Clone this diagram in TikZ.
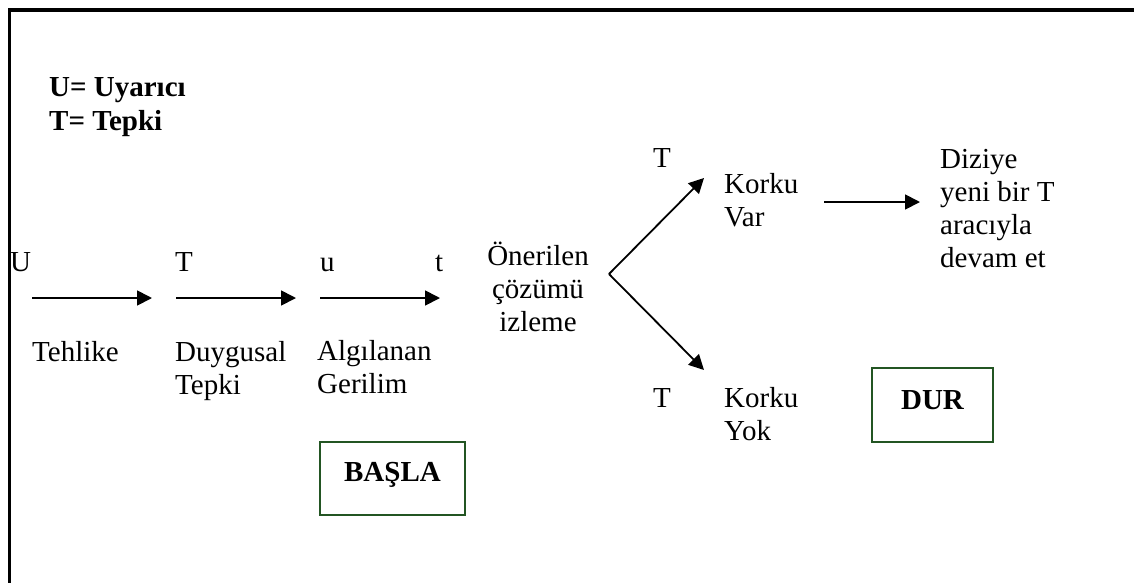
\documentclass[tikz,border=0pt]{standalone}
\usepackage{fontspec}
\setmainfont{Liberation Serif}
\usetikzlibrary{arrows.meta}
\definecolor{boxgreen}{RGB}{35,85,35}
\begin{document}
\begin{tikzpicture}[x=1pt,y=-1pt,
  % multi-line nodes are placed by the baseline of their last line
  txt/.style={anchor=base west,inner sep=0pt,align=left,font=\fontsize{29}{33}\selectfont},
  boldtxt/.style={anchor=base west,inner sep=0pt,align=left,font=\fontsize{29}{34}\selectfont\bfseries},
  flow/.style={line width=1.8pt,-{Triangle[length=15pt,width=15pt]}},
  stepbox/.style={draw=boxgreen,line width=2pt,inner sep=0pt}]
\useasboundingbox (0,0) rectangle (1134,582);

% frame
\draw[line width=3.3pt] (9.3,600) -- (9.3,10) -- (1150,10);

% legend
\node[boldtxt] (legend) at (49,130) {U= Uyarıcı\\T= Tepki};

% stimulus / response markers
\node[txt] (mU) at (10,271) {U};
\node[txt] (mT) at (175,271) {T};
\node[txt] (mu) at (320,271) {u};
\node[txt] (mt) at (435,271) {t};

% horizontal chain
\coordinate (a1s) at (32,298);  \coordinate (a1e) at (152,298);
\coordinate (a2s) at (176,298); \coordinate (a2e) at (296,298);
\coordinate (a3s) at (320,298); \coordinate (a3e) at (440,298);
\draw[flow] (a1s) -- (a1e);
\draw[flow] (a2s) -- (a2e);
\draw[flow] (a3s) -- (a3e);

\node[txt] (tehlike) at (32,361) {Tehlike};
\node[txt] (duygusal) at (175,394) {Duygusal\\Tepki};
\node[txt] (algilanan) at (317,393) {Algılanan\\Gerilim};

% monitoring and branch
\node[txt,align=center,anchor=base] (izleme) at (538,331) {Önerilen\\çözümü\\izleme};
\coordinate (fork) at (609,274);
\coordinate (upTip) at (704,178);
\coordinate (downTip) at (704,370);
\draw[flow] (fork) -- (upTip);
\draw[flow] (fork) -- (downTip);

\node[txt] (tUp) at (653,167) {T};
\node[txt] (korkuvar) at (724,226) {Korku\\Var};
\node[txt] (tDown) at (653,407) {T};
\node[txt] (korkuyok) at (724,440) {Korku\\Yok};

\coordinate (cs) at (824,202); \coordinate (ce) at (920,202);
\draw[flow] (cs) -- (ce);
\node[txt] (devam) at (940,267) {Diziye\\yeni bir T\\aracıyla\\devam et};

% start / stop boxes
\node[stepbox,minimum width=145pt,minimum height=73pt] (basla) at (392.5,478.5) {};
\node[boldtxt,anchor=base] (baslaText) at (392.5,481.7) {BAŞLA};
\node[stepbox,minimum width=120.4pt,minimum height=74.5pt] (dur) at (932.5,405.2) {};
\node[boldtxt,anchor=base] (durText) at (932.5,409) {DUR};
\end{tikzpicture}
\end{document}
